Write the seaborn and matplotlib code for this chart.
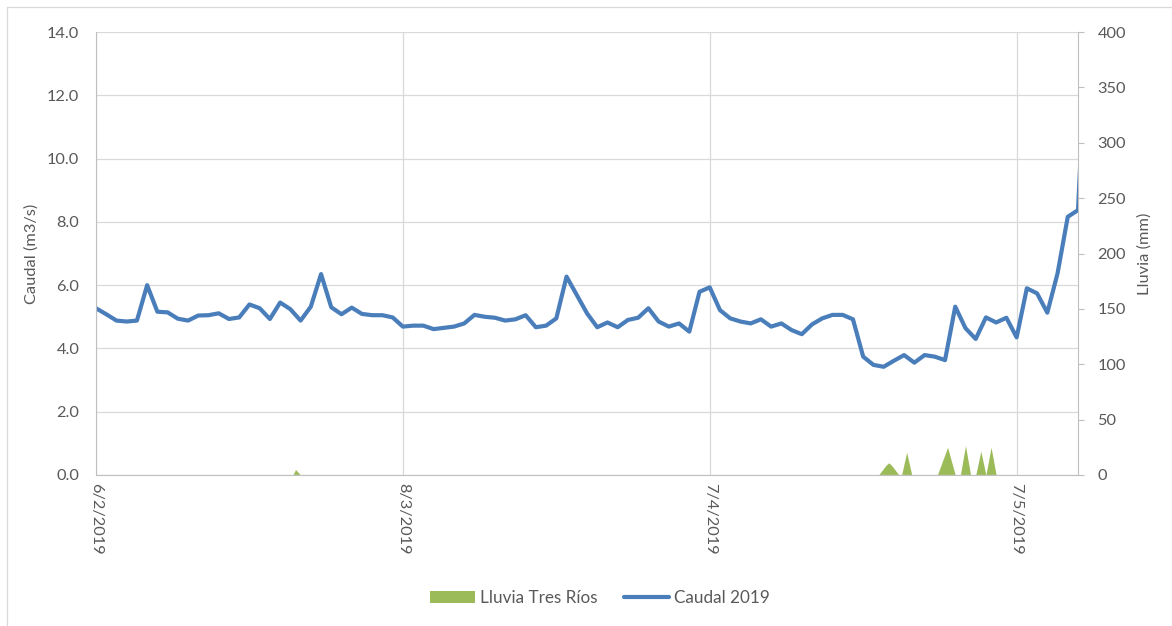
import pandas as pd
import numpy as np
import matplotlib
matplotlib.use('Agg')
import matplotlib.pyplot as plt
import matplotlib.dates as mdates
from matplotlib.patches import Patch
from matplotlib.lines import Line2D
import seaborn as sns

# Daily flow (m3/s) from 6/2/2019
start_date = '2019-02-06'
caudal = [5.27, 5.08, 4.88, 4.85, 4.88, 6.00, 5.16, 5.14, 4.94, 4.88,
          5.04, 5.05, 5.11, 4.93, 4.98, 5.39, 5.27, 4.93, 5.45, 5.24,
          4.88, 5.32, 6.35, 5.30, 5.08, 5.29, 5.09, 5.05, 5.05, 4.98,
          4.69, 4.72, 4.72, 4.61, 4.65, 4.69, 4.79, 5.06, 5.00, 4.97,
          4.88, 4.92, 5.05, 4.67, 4.72, 4.95, 6.27, 5.69, 5.11, 4.67,
          4.82, 4.67, 4.90, 4.97, 5.27, 4.85, 4.69, 4.79, 4.53, 5.79,
          5.93, 5.21, 4.95, 4.85, 4.79, 4.92, 4.69, 4.79, 4.58, 4.45,
          4.76, 4.95, 5.06, 5.06, 4.92, 3.74, 3.48, 3.42, 3.61, 3.79,
          3.55, 3.79, 3.74, 3.63, 5.32, 4.64, 4.30, 4.98, 4.82, 4.97,
          4.35, 5.90, 5.74, 5.13, 6.37, 8.16, 8.37, 15.0]

# Rain readings (mm), Tres Rios station
rain_times = ['2019-02-06 00:00', '2019-02-25 06:00', '2019-02-25 12:00', '2019-02-26 00:00',
              '2019-04-23 12:00', '2019-04-24 06:00', '2019-04-24 12:00', '2019-04-24 18:00',
              '2019-04-25 12:00', '2019-04-25 18:00', '2019-04-26 06:00', '2019-04-26 18:00',
              '2019-04-29 06:00', '2019-04-30 06:00', '2019-05-01 00:00', '2019-05-01 12:00',
              '2019-05-02 00:00', '2019-05-02 12:00', '2019-05-03 00:00', '2019-05-03 12:00',
              '2019-05-04 00:00', '2019-05-04 12:00', '2019-05-05 00:00', '2019-05-13 00:00']
rain_mm = [0, 0, 5, 0,
           0, 9, 11, 9,
           0, 0, 20.5, 0,
           0, 25, 0, 0,
           26.5, 0, 0, 21.5,
           0, 25, 0, 0]

tick_dates = ['2019-02-06', '2019-03-08', '2019-04-07', '2019-05-07']

df = pd.DataFrame({'Fecha': pd.date_range(start_date, periods=len(caudal), freq='D'),
                   'Caudal': caudal})
rain = pd.DataFrame({'Fecha': pd.to_datetime(rain_times), 'Lluvia': rain_mm})

sns.set_style('white')
plt.rcParams['font.family'] = ['Lato', 'DejaVu Sans']

blue = '#4A7EBB'
green = '#9BBB59'
grey = '#595959'
gridc = '#D9D9D9'
fs = 11.8

fig = plt.figure(figsize=(11.72, 6.26), dpi=100)
ax = fig.add_axes([96 / 1172, 1 - 475 / 626, (1078 - 96) / 1172, (475 - 32) / 626])
ax2 = ax.twinx()

# rain on the secondary axis, behind the flow line
ax2.fill_between(rain['Fecha'], 0, rain['Lluvia'], color=green, linewidth=0)
ax.set_zorder(ax2.get_zorder() + 1)
ax.patch.set_visible(False)

sns.lineplot(data=df, x='Fecha', y='Caudal', ax=ax, color=blue, linewidth=3.0)

ax.set_xlim(pd.Timestamp(start_date), pd.Timestamp('2019-05-13'))
ax.set_ylim(0, 14)
ax.set_yticks(np.arange(0, 14.1, 2))
ax.yaxis.set_major_formatter(plt.FuncFormatter(lambda v, p: f'{v:.1f}'))
ax2.set_ylim(0, 400)
ax2.set_yticks(np.arange(0, 401, 50))

ax.set_xticks(pd.to_datetime(tick_dates))
ax.xaxis.set_major_formatter(plt.FuncFormatter(
    lambda v, p: f'{mdates.num2date(v).day}/{mdates.num2date(v).month}/{mdates.num2date(v).year}'))

ax.grid(True, color=gridc, linewidth=0.9)
for a in (ax, ax2):
    for s in a.spines.values():
        s.set_visible(False)
ax.spines['left'].set_visible(True)
ax.spines['left'].set_color('#BFBFBF')
ax.spines['bottom'].set_visible(True)
ax.spines['bottom'].set_color('#BFBFBF')
ax2.spines['right'].set_visible(True)
ax2.spines['right'].set_color('#BFBFBF')

ax.tick_params(axis='y', length=0, colors=grey, labelsize=fs, pad=12)
ax.tick_params(axis='x', length=0, colors=grey, labelsize=fs, pad=6, labelrotation=-90)
for lbl in ax.get_xticklabels():
    lbl.set_va('top')
    lbl.set_ha('center')
ax2.tick_params(axis='y', length=4, width=0.8, colors=grey, labelsize=fs, pad=10)
ax2.tick_params(axis='y', color='#BFBFBF')

ax.set_xlabel('')
ax.set_ylabel('Caudal (m3/s)', color=grey, fontsize=fs, labelpad=6)
ax2.set_ylabel('Lluvia (mm)', color=grey, fontsize=fs, labelpad=8)

handles = [Patch(facecolor=green, edgecolor='none'),
           Line2D([0], [0], color=blue, linewidth=3.0)]
fig.legend(handles, ['Lluvia Tres Ríos', 'Caudal 2019'], loc='center',
           bbox_to_anchor=(600 / 1172, 1 - 598 / 626), ncol=2, frameon=False,
           fontsize=12.3, labelcolor=grey, handlelength=2.6, handleheight=0.7,
           handletextpad=0.3, columnspacing=1.6)

# chart-area border
fig.add_artist(Line2D([7 / 1172, 7 / 1172], [0, 1 - 7 / 626], color=gridc, linewidth=0.9))
fig.add_artist(Line2D([7 / 1172, 1], [1 - 7 / 626, 1 - 7 / 626], color=gridc, linewidth=0.9))

fig.savefig('out.png', dpi=100)
